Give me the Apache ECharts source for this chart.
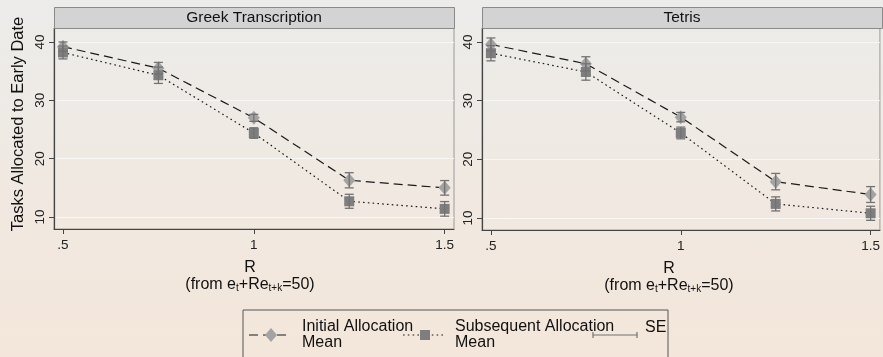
<!DOCTYPE html>
<html>
<head>
<meta charset="utf-8">
<script src="https://cdn.jsdelivr.net/npm/echarts@6/dist/echarts.min.js"></script>
<style>
html,body{margin:0;padding:0;}
#c{width:883px;height:357px;background:linear-gradient(#ececea,#f4e6da);}
</style>
</head>
<body>
<div id="c"></div>
<script>
// ---- data ----
const panels = ['Greek Transcription', 'Tetris'];
const rValues = [0.5, 0.75, 1.0, 1.25, 1.5];
const xTicks = [0.5, 1, 1.5];
const xTickLabels = ['.5', '1', '1.5'];
const yTicks = [10, 20, 30, 40];
const greekInitial = [39.2, 35.5, 27.0, 16.3, 15.0];
const greekInitialSE = [0.8, 1.0, 0.6, 1.3, 1.25];
const greekSubsequent = [38.2, 34.3, 24.4, 12.7, 11.4];
const greekSubsequentSE = [1.1, 1.4, 0.9, 1.2, 1.25];
const tetrisInitial = [39.6, 36.3, 27.2, 16.2, 14.0];
const tetrisInitialSE = [1.1, 1.2, 0.8, 1.4, 1.35];
const tetrisSubsequent = [38.1, 34.9, 24.5, 12.4, 10.8];
const tetrisSubsequentSE = [1.3, 1.4, 1.0, 1.2, 1.2];
const seriesNames = ['Initial Allocation\nMean', 'Subsequent Allocation\nMean', 'SE'];

const FONT = 'Liberation Sans, Arial, sans-serif';
const chart = echarts.init(document.getElementById('c'), null, {renderer: 'canvas'});

const gridPos = [
  {left: 54, top: 28, width: 400, height: 201},
  {left: 482, top: 28, width: 400, height: 202}
];
const xNamePad = [[0, 8, 0, 0], [0, 24, 0, 0]];

function pts(vals) { return rValues.map((x, i) => [x, vals[i]]); }
function errs(vals, se) { return rValues.map((x, i) => [x, vals[i] - se[i], vals[i] + se[i]]); }

function errSeries(idx, vals, se) {
  return {
    type: 'custom', xAxisIndex: idx, yAxisIndex: idx, z: 5,
    data: errs(vals, se),
    renderItem: function (params, api) {
      const x = api.value(0);
      const lo = api.coord([x, api.value(1)]);
      const hi = api.coord([x, api.value(2)]);
      const w = 4.5;
      const st = {stroke: '#727272', lineWidth: 1.3, fill: null};
      return {type: 'group', children: [
        {type: 'line', shape: {x1: lo[0], y1: lo[1], x2: hi[0], y2: hi[1]}, style: st},
        {type: 'line', shape: {x1: lo[0] - w, y1: lo[1], x2: lo[0] + w, y2: lo[1]}, style: st},
        {type: 'line', shape: {x1: hi[0] - w, y1: hi[1], x2: hi[0] + w, y2: hi[1]}, style: st}
      ]};
    }
  };
}

function lineSeries(idx, vals, kind) {
  const initial = kind === 'initial';
  return {
    type: 'line', xAxisIndex: idx, yAxisIndex: idx, z: 3,
    name: initial ? seriesNames[0] : seriesNames[1],
    data: pts(vals),
    symbol: initial ? 'diamond' : 'rect',
    symbolSize: initial ? [12, 14] : [10, 10],
    itemStyle: {color: initial ? '#a3a3a3' : '#7e7e7e'},
    lineStyle: {color: '#1a1a1a', width: 1.2, type: initial ? [9, 5] : [1.6, 3.2]},
    silent: true, animation: false
  };
}

const grids = gridPos.map(g => Object.assign({show: true, borderColor: '#9a9a9a', borderWidth: 1, backgroundColor: 'transparent'}, g));

const xAxes = gridPos.map((g, i) => ({
  type: 'value', gridIndex: i, min: 0.4765, max: 1.5245,
  axisLine: {show: true, onZero: false, lineStyle: {color: '#444', width: 1.2}},
  axisTick: {show: true, length: 5, customValues: xTicks, lineStyle: {color: '#444'}},
  axisLabel: {customValues: xTicks, margin: 9, color: '#222', fontSize: 13.5, fontFamily: FONT,
    formatter: v => xTickLabels[xTicks.indexOf(Math.round(v * 100) / 100)] ?? ''},
  splitLine: {show: false},
  name: 'R\n(from e{sub|t}+Re{sub|t+k}=50)',
  nameLocation: 'middle', nameGap: 30,
  nameTextStyle: {color: '#111', fontSize: 16, fontFamily: FONT, lineHeight: 17, align: 'center',
    padding: xNamePad[i],
    rich: {sub: {fontSize: 10, verticalAlign: 'bottom', padding: [8, 0, 0, 0], fontFamily: FONT, color: '#111'}}}
}));

const yAxes = gridPos.map((g, i) => ({
  type: 'value', gridIndex: i, min: 7.95, max: 42.4,
  axisLine: {show: true, lineStyle: {color: '#444', width: 1.2}},
  axisTick: {show: true, length: 5, customValues: yTicks, lineStyle: {color: '#444'}},
  axisLabel: {customValues: yTicks, rotate: 90, margin: 7, color: '#222', fontSize: 13.5, fontFamily: FONT},
  splitLine: {show: true, lineStyle: {color: '#f7f7f5', width: 1.2}},
  name: i === 0 ? 'Tasks Allocated to Early Date' : '',
  nameLocation: 'middle', nameRotate: 90, nameGap: 27,
  nameTextStyle: {color: '#111', fontSize: 16.5, fontFamily: FONT, padding: [0, 0, 0, 9]}
}));

const series = [
  lineSeries(0, greekInitial, 'initial'),
  lineSeries(0, greekSubsequent, 'subsequent'),
  errSeries(0, greekInitial, greekInitialSE),
  errSeries(0, greekSubsequent, greekSubsequentSE),
  lineSeries(1, tetrisInitial, 'initial'),
  lineSeries(1, tetrisSubsequent, 'subsequent'),
  errSeries(1, tetrisInitial, tetrisInitialSE),
  errSeries(1, tetrisSubsequent, tetrisSubsequentSE)
];

// strips and legend
const graphic = [];
gridPos.forEach((g, i) => {
  graphic.push({type: 'rect', left: g.left, top: 7, shape: {width: g.width, height: 21},
    style: {fill: '#d3d3d3', stroke: '#8a8a8a', lineWidth: 1}, z: 10});
  graphic.push({type: 'text', x: g.left + g.width / 2, y: 18,
    style: {text: panels[i], font: '15.5px ' + FONT, fill: '#111', align: 'center', verticalAlign: 'middle'}, z: 11});
});
// legend box
const ly = 335;
graphic.push({type: 'rect', shape: {x: 243, y: 310, width: 425, height: 60},
  style: {fill: 'transparent', stroke: '#555', lineWidth: 1}, z: 10});
graphic.push({type: 'line', shape: {x1: 249, y1: ly, x2: 291, y2: ly},
  style: {stroke: '#1a1a1a', lineWidth: 1.2, lineDash: [9, 5]}, z: 11});
graphic.push({type: 'polygon', shape: {points: [[271, ly - 7], [277, ly], [271, ly + 7], [265, ly]]},
  style: {fill: '#a3a3a3'}, z: 12});
graphic.push({type: 'text', x: 302, y: 335,
  style: {text: seriesNames[0], font: '16px ' + FONT, fill: '#111', lineHeight: 16, verticalAlign: 'middle'}, z: 11});
graphic.push({type: 'line', shape: {x1: 403, y1: ly, x2: 446, y2: ly},
  style: {stroke: '#1a1a1a', lineWidth: 1.2, lineDash: [1.6, 3.2]}, z: 11});
graphic.push({type: 'rect', shape: {x: 420, y: ly - 5, width: 10, height: 10},
  style: {fill: '#7e7e7e'}, z: 12});
graphic.push({type: 'text', x: 455, y: 335,
  style: {text: seriesNames[1], font: '16px ' + FONT, fill: '#111', lineHeight: 16, verticalAlign: 'middle'}, z: 11});
graphic.push({type: 'polyline', shape: {points: [[593, ly - 3], [593, ly + 3]]}, style: {stroke: '#727272', lineWidth: 1.2}, z: 11});
graphic.push({type: 'polyline', shape: {points: [[637, ly - 3], [637, ly + 3]]}, style: {stroke: '#727272', lineWidth: 1.2}, z: 11});
graphic.push({type: 'line', shape: {x1: 593, y1: ly, x2: 637, y2: ly}, style: {stroke: '#727272', lineWidth: 1.2}, z: 11});
graphic.push({type: 'text', x: 645, y: 328,
  style: {text: seriesNames[2], font: '16px ' + FONT, fill: '#111', verticalAlign: 'middle'}, z: 11});

chart.setOption({
  animation: false,
  grid: grids,
  xAxis: xAxes,
  yAxis: yAxes,
  series: series,
  graphic: graphic
});
</script>
</body>
</html>
